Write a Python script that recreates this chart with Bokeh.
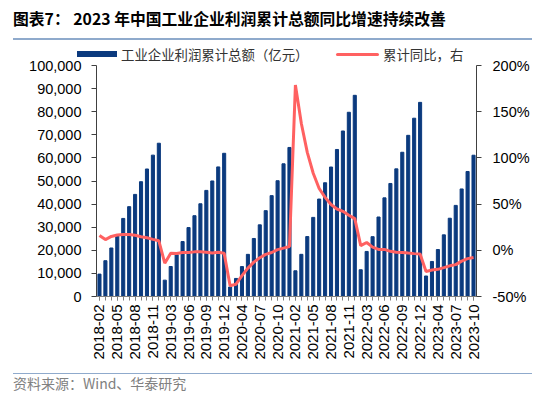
from math import pi
from bokeh.plotting import figure
from bokeh.layouts import column
from bokeh.models import (Range1d, LinearAxis, NumeralTickFormatter, PrintfTickFormatter,
                          SingleIntervalTicker, FixedTicker, ColumnDataSource, Div)
from bokeh.embed import file_html
from bokeh.resources import INLINE

# ---------------- data ----------------
years = ["2018", "2019", "2020", "2021", "2022", "2023"]
months_full = ["02", "03", "04", "05", "06", "07", "08", "09", "10", "11", "12"]
months_2023 = ["02", "03", "04", "05", "06", "07", "08", "09", "10"]

profit_2018 = [9689, 15500, 21000, 26800, 33800, 38900, 44200, 49700, 55200, 61200, 66351]
profit_2019 = [7080, 12986, 18081, 23786, 29840, 34983, 40139, 45933, 50020, 56100, 61996]
profit_2020 = [4107, 7814, 12953, 18244, 25115, 31022, 37167, 43665, 50124, 57445, 64516]
profit_2021 = [11140, 18253, 25944, 34247, 42183, 49240, 56051, 63648, 71649, 79750, 87092]
profit_2022 = [11575, 19503, 25900, 34410, 42702, 48929, 55254, 62442, 69769, 77180, 84038]
profit_2023 = [8872, 15167, 20329, 26688, 33885, 39439, 46558, 54119, 61154]

yoy_2018 = [16.1, 11.6, 15.0, 16.5, 17.2, 17.1, 16.2, 14.7, 13.6, 11.8, 10.3]
yoy_2019 = [-14.0, -3.3, -3.4, -2.3, -2.4, -1.7, -1.7, -2.1, -2.9, -2.1, -3.3]
yoy_2020 = [-38.3, -36.7, -27.4, -19.3, -12.8, -8.1, -4.4, -2.4, 0.7, 2.4, 4.1]
yoy_2021 = [178.9, 137.3, 106.0, 83.4, 66.9, 57.3, 49.5, 44.7, 42.2, 38.0, 34.3]
yoy_2022 = [5.0, 8.5, 3.5, 1.0, 1.0, -1.1, -2.1, -2.3, -3.0, -3.6, -4.0]
yoy_2023 = [-22.9, -21.4, -20.6, -18.8, -16.8, -15.5, -11.7, -9.0, -7.8]

title_text = "图表7： 2023 年中国工业企业利润累计总额同比增速持续改善"
bar_name = "工业企业利润累计总额（亿元）"
line_name = "累计同比，右"
source_text = "资料来源：Wind、华泰研究"
label_step = 3

# ---------------- build ----------------
cats = []
for y in years:
    ms = months_2023 if y == "2023" else months_full
    cats += [f"{y}-{m}" for m in ms]
profit = profit_2018 + profit_2019 + profit_2020 + profit_2021 + profit_2022 + profit_2023
yoy = yoy_2018 + yoy_2019 + yoy_2020 + yoy_2021 + yoy_2022 + yoy_2023
idx = list(range(len(cats)))
src = ColumnDataSource(dict(x=idx, cat=cats, profit=profit, yoy=yoy))

BAR = "#0B3A7E"
RED = "#FF6161"
LINEC = "#8FAACC"
CJK = "Noto Sans CJK SC"
LAT = "Liberation Sans"
W = 546

# ---------------- header (title + legend) ----------------
def box(style, inner=""):
    return f'<div style="position:absolute;{style}">{inner}</div>'

header_html = (
    f'<div style="position:relative;width:{W}px;height:44px;overflow:visible;font-family:\'{CJK}\';">'
    + box("left:8px;top:2.5px;height:22px;line-height:22px;font-size:15.8px;font-weight:bold;"
          "color:#000;white-space:nowrap;", title_text)
    + box(f"left:8px;top:33px;width:519px;height:2px;background:{LINEC};")
    + box(f"left:72px;top:46px;width:40px;height:6px;background:{BAR};")
    + box("left:116px;top:42px;line-height:14px;font-size:13.4px;color:#333;white-space:nowrap;",
          bar_name)
    + box(f"left:331px;top:47.5px;width:43px;height:3px;border-radius:1.5px;background:{RED};")
    + box("left:378px;top:42px;line-height:14px;font-size:13.4px;color:#333;white-space:nowrap;",
          line_name)
    + '</div>')
header = Div(width=W, height=44, text=header_html,
             styles={"overflow": "visible", "z-index": "2"})

# ---------------- main chart ----------------
p = figure(width=W, height=311, x_range=Range1d(-0.5, len(cats) - 0.5),
           y_range=Range1d(0, 100000), output_backend="svg", toolbar_location=None,
           min_border_left=96, min_border_right=70, min_border_top=11, min_border_bottom=69)
p.outline_line_color = None
p.xgrid.visible = False
p.ygrid.visible = False
p.border_fill_alpha = 0
p.extra_y_ranges = {"pct": Range1d(-50, 200)}

p.vbar(x="x", top="profit", width=0.52, source=src, color=BAR, legend_label=bar_name)
p.line(x="x", y="yoy", source=src, y_range_name="pct", line_color=RED, line_width=3,
       legend_label=line_name)
p.legend.visible = False

xa = p.xaxis[0]
xa.ticker = FixedTicker(ticks=idx[::label_step], minor_ticks=idx)
xa.major_label_overrides = {i: cats[i] for i in idx[::label_step]}
xa.major_label_orientation = pi / 2
xa.major_label_text_font = LAT
xa.major_label_text_font_size = "15px"
xa.major_label_text_color = "#000000"
xa.major_tick_in = 0
xa.major_tick_out = 4
xa.minor_tick_in = 0
xa.minor_tick_out = 4
xa.major_label_standoff = 4
xa.axis_line_color = "#808080"
xa.major_tick_line_color = "#808080"
xa.minor_tick_line_color = "#808080"

ya = p.yaxis[0]
ya.ticker = SingleIntervalTicker(interval=10000)
ya.formatter = NumeralTickFormatter(format="0,0")
ya.minor_tick_line_color = None
ya.major_tick_in = 0
ya.major_tick_out = 5
ya.major_label_standoff = 10
ya.major_label_text_font = LAT
ya.major_label_text_font_size = "14.5px"
ya.major_label_text_color = "#000000"
ya.axis_line_color = "#404040"
ya.major_tick_line_color = "#404040"

ra = LinearAxis(y_range_name="pct", ticker=SingleIntervalTicker(interval=50),
                formatter=PrintfTickFormatter(format="%d%%"))
ra.minor_tick_line_color = None
ra.major_tick_in = 0
ra.major_tick_out = 5
ra.major_label_standoff = 11
ra.major_label_text_font = LAT
ra.major_label_text_font_size = "14.5px"
ra.major_label_text_color = "#000000"
ra.axis_line_color = "#404040"
ra.major_tick_line_color = "#404040"
p.add_layout(ra, "right")

# ---------------- footer ----------------
footer_html = (
    f'<div style="position:relative;width:{W}px;height:30px;font-family:\'{CJK}\';">'
    + box(f"left:8px;top:2.5px;width:519px;height:1.5px;background:{LINEC};")
    + box("left:8px;top:5px;line-height:16px;font-size:14px;color:#808080;white-space:nowrap;",
          source_text)
    + '</div>')
footer = Div(width=W, height=30, text=footer_html)

page = column(header, p, footer, spacing=0)
open("out.html", "w").write(file_html(page, INLINE))
